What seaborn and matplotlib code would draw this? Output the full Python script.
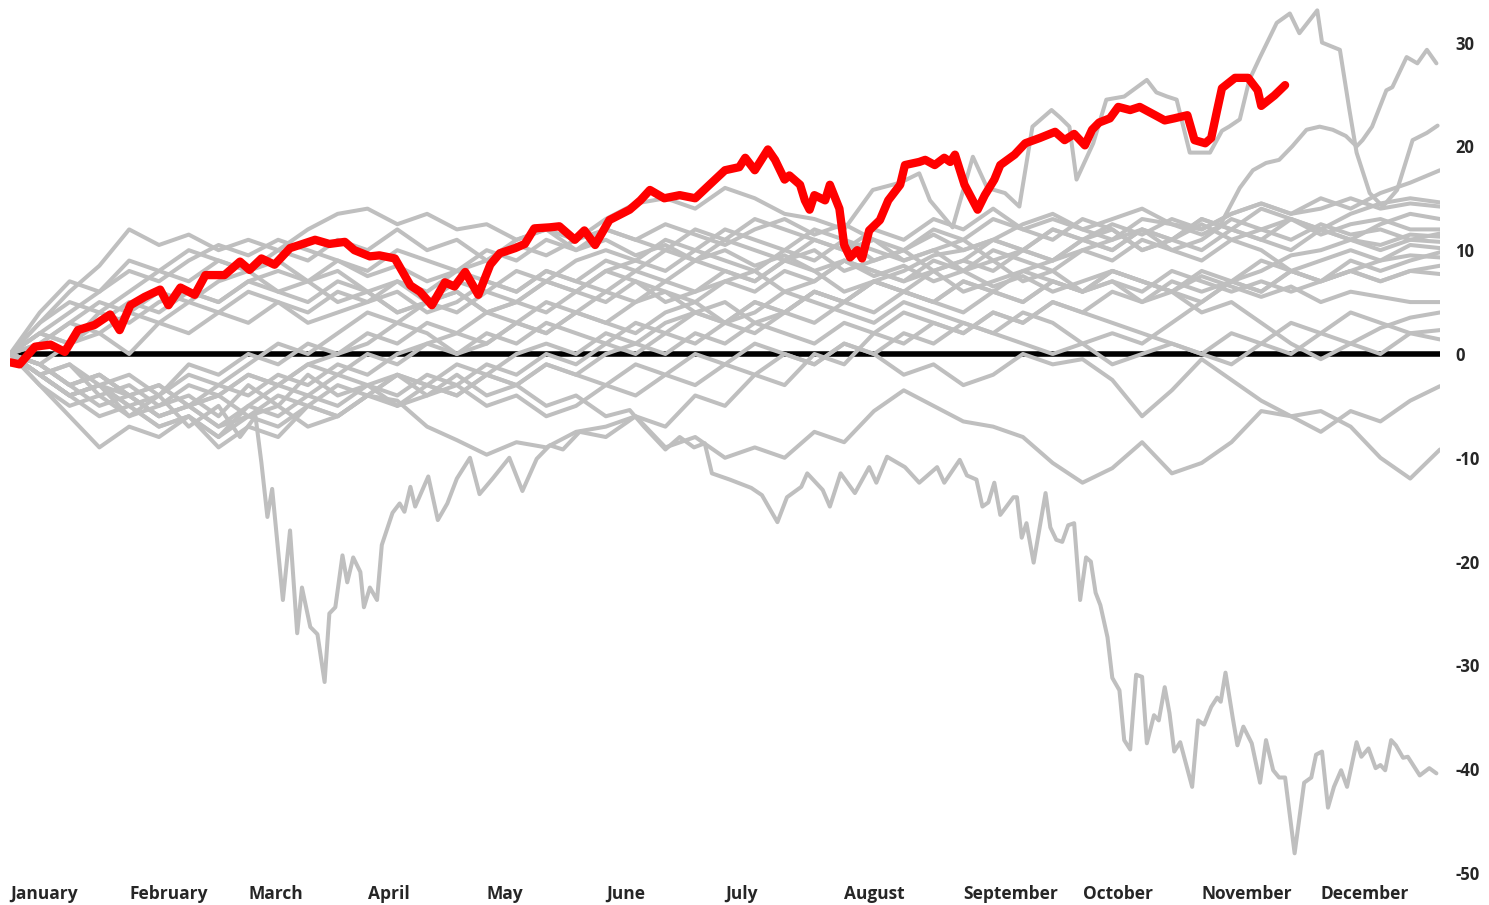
import numpy as np
import pandas as pd
import seaborn as sns
import matplotlib.pyplot as plt

# month labels along the bottom, one per month start
months = ['January', 'February', 'March', 'April', 'May', 'June', 'July',
          'August', 'September', 'October', 'November', 'December']
month_pos = [0, 1, 2, 3, 4, 5, 6, 7, 8, 9, 10, 11]
y_ticks = [-50, -40, -30, -20, -10, 0, 10, 20, 30]

# quarter-month sample positions (x in months since Jan 1)
quarter_x = np.arange(49) * 0.25

# current year (red)
red_x = [0.00, 0.08, 0.21, 0.34, 0.46, 0.57, 0.71, 0.84, 0.92, 1.01, 1.13, 1.26, 1.33, 1.43,
         1.55, 1.64, 1.80, 1.93, 2.01, 2.11, 2.22, 2.35, 2.43, 2.56, 2.68, 2.81, 2.89, 3.02,
         3.10, 3.23, 3.36, 3.44, 3.54, 3.65, 3.73, 3.82, 3.93, 4.03, 4.11, 4.24, 4.32, 4.40,
         4.53, 4.61, 4.74, 4.82, 4.91, 5.03, 5.20, 5.29, 5.37, 5.49, 5.62, 5.75, 5.87, 6.00,
         6.12, 6.17, 6.25, 6.36, 6.42, 6.50, 6.54, 6.63, 6.67, 6.71, 6.75, 6.84, 6.88, 6.96,
         7.00, 7.05, 7.11, 7.15, 7.21, 7.30, 7.37, 7.47, 7.51, 7.63, 7.68, 7.76, 7.84, 7.89,
         7.93, 8.01, 8.12, 8.18, 8.26, 8.31, 8.43, 8.52, 8.64, 8.77, 8.85, 8.93, 9.02, 9.08,
         9.14, 9.23, 9.30, 9.40, 9.48, 9.61, 9.69, 9.77, 9.88, 9.94, 10.03, 10.08, 10.13,
         10.17, 10.28, 10.39, 10.47, 10.50, 10.61, 10.70]
red_y = [-0.8, -1.0, 0.7, 0.9, 0.2, 2.3, 2.8, 3.8, 2.3, 4.7, 5.5, 6.2, 4.7, 6.4,
         5.7, 7.6, 7.6, 8.9, 8.1, 9.2, 8.6, 10.2, 10.5, 11.0, 10.6, 10.8, 10.0, 9.4,
         9.5, 9.2, 6.6, 6.0, 4.7, 6.9, 6.5, 7.9, 5.7, 8.6, 9.7, 10.2, 10.6, 12.1,
         12.2, 12.3, 11.0, 11.9, 10.5, 12.9, 13.9, 14.8, 15.8, 15.0, 15.3, 15.0, 16.3, 17.7,
         18.0, 18.9, 17.7, 19.7, 18.7, 16.8, 17.2, 16.3, 14.8, 13.9, 15.3, 14.8, 16.3, 14.0,
         10.5, 9.3, 10.0, 9.2, 11.9, 12.9, 14.8, 16.3, 18.2, 18.5, 18.7, 18.2, 18.9, 18.5,
         19.2, 16.3, 13.9, 15.3, 16.8, 18.2, 19.2, 20.3, 20.8, 21.4, 20.6, 21.2, 20.1, 21.6,
         22.3, 22.7, 23.8, 23.5, 23.8, 23.0, 22.5, 22.7, 23.0, 20.6, 20.3, 20.8, 23.5,
         25.6, 26.6, 26.6, 25.4, 23.9, 24.9, 25.9]

# past years (grey) sampled every quarter month, four values per month
g01 = [0, 3, 6, 8.5, 12, 10.5, 11.5, 10, 11, 10, 12, 13.5, 14, 12.5, 13.5, 12,
       12.5, 11, 12, 10, 11, 9.5, 10.5, 9, 10, 8.5, 9.5, 8, 9, 7.5, 8.5, 7,
       8, 6.5, 7.5, 6, 7, 8, 7, 6, 7.5, 6.5, 5.5, 6.5, 5, 6, 5.5, 5, 5.0]
g02 = [0, 2, 4, 6, 8, 7, 9, 10.5, 9.5, 11, 10, 9, 7.5, 8.5, 7, 8,
       9, 10.5, 9.5, 11, 12, 11, 12.5, 11.5, 10.5, 12, 13, 11.5, 12.5, 11, 10, 11.5,
       10, 11, 12.5, 13.5, 12, 13, 14, 12.5, 12, 13.5, 14.5, 13.5, 15, 14, 15.5, 16.5, 17.7]
g03 = [0, -2, -1, -3, -2, -4, -1, -2, 0, -1, 1, 0, 2, 1, 3, 2,
       4, 3, 5, 4, 6, 5, 7, 6, 8, 7, 9, 8, 6, 7, 8, 9.5,
       10, 11, 10, 12, 11, 12.5, 11.5, 13, 12, 13.5, 14.5, 13.5, 14, 15, 14, 14.5, 14.2]
g04 = [0, 1, 3, 2, 4, 3, 5, 4, 6, 5, 3, 4, 5, 6, 4, 5,
       7, 6, 8, 7, 6, 8, 7, 9, 8, 7, 9, 10, 8, 9, 10, 8,
       9, 11, 10, 9, 11, 12, 10, 11, 12.5, 11, 12, 13, 11.5, 12.5, 13, 12, 12.0]
g05 = [0, -3, -5, -4, -6, -5, -3, -4, -2, -3, -1, -2, 0, -1, 1, 2,
       1, 3, 2, 4, 3, 5, 6, 5, 7, 6, 8, 7, 9, 8, 7, 8,
       6, 7, 8, 9, 10, 11, 12, 10, 11, 13, 12, 11, 12.5, 11.5, 12, 11, 11.6]
g06 = [0, -1, -3, -2, -4, -3, -5, -4, -2, -3, -1, 0, 1, 3, 2, 0,
       1, 3, 2, 4, 3, 2, 4, 5, 3, 4, 6, 5, 4, 3, 5, 4,
       3, 2, 4, 3, 1, 2, 1, 3, 5, 7, 8, 9.5, 10, 11, 10.5, 11.5, 11.3]
g07 = [0, 2, 1, 3, 5, 4, 6, 5, 7, 6, 5, 7, 6, 4, 5, 6,
       4, 5, 7, 6, 8, 7, 5, 6, 7, 8, 6, 7, 9, 8, 7, 9,
       8, 10, 9, 8, 10, 9, 11, 10, 9, 11, 10, 8, 9, 10, 9, 10.5, 10.2]
g08 = [0, -2, -4, -6, -5, -7, -6, -8, -5, -6, -4, -5, -3, -4, -2, -3,
       -1, -2, 0, -1, 1, 0, 2, 1, 3, 2, 4, 3, 5, 4, 6, 5,
       7, 6, 5, 7, 6, 8, 7, 6, 8, 7, 9, 8, 7, 8, 9, 9.5, 9.3]
g09 = [0, 4, 7, 6, 9, 8, 10, 9, 8, 9, 7, 8, 6, 7, 5, 6,
       4, 5, 7, 6, 8, 9, 8, 10, 9, 8, 10, 9, 11, 10, 9, 10,
       8, 9, 7, 8, 6, 7, 6, 8, 7, 6, 7, 6, 7, 8, 7, 8, 8.5]
g10 = [0, -1, -3, -2, -4, -3, -5, -4, -6, -5, -7, -6, -4, -5, -3, -4,
       -2, -3, -1, -2, 0, 1, 0, 2, 1, 3, 2, 1, 3, 2, 4, 3,
       2, 4, 3, 5, 4, 3, 2, 1, 0, 2, 1, 3, 2, 4, 3, 2, 2.3]
g11 = [0, -2, -4, -3, -4, -6, -5, -7, -5, -3, -4, -2, -3, -2, -4, -3,
       -5, -4, -6, -5, -3, -4, -2, -3, -1, -2, 0, -1, 1, 0, 2, 1,
       3, 2, 1, 0, 1, -1, 0, 1, 0, -1, 1, 0, 2, 1, 0, 2, 1.4]
g12 = [0, -1, -3, -5, -4, -6, -5, -7, -6, -4, -5, -3, -4, -2, -3, -4,
       -2, -3, -1, -2, -3, -1, -2, 0, -1, 1, 0, -1, 1, 0, -2, -1,
       -3, -2, 0, -1, -0.5, -2.5, -6, -3.5, -0.5, -2.5, -4.5, -6, -7.5, -5.5, -6.5, -4.5, -3.1]
g13 = [0, -3, -6, -9, -7, -8, -6, -9, -7, -8, -5, -6, -4, -4.5, -7, -8.3,
       -9.7, -8.5, -9, -7.5, -7, -6, -9, -8, -10, -9, -10, -7.5, -8.5, -5.5, -3.5, -5,
       -6.5, -7, -8, -10.5, -12.4, -11, -8.5, -11.5, -10.5, -8.5, -5.5, -6, -5.5, -7, -10, -12, -9.2]
g14 = [0, 1, 3, 5, 4, 6, 5, 7, 8, 6, 7, 5, 6, 4, 5, 7,
       6, 8, 7, 9, 10, 9, 11, 10, 12, 11, 10, 12, 11, 9, 10, 12,
       11, 13, 12, 11, 13, 12, 10, 11, 13, 12, 14, 13, 12, 13.5, 14.5, 15, 14.6]
g15 = [0, -2, -4, -3, -5, -7, -6, -8, -6, -7, -5, -6, -4, -2, -3, -1,
       -2, 0, 1, 0, 2, 1, 3, 4, 3, 5, 4, 6, 5, 7, 6, 8,
       9, 8, 10, 9, 11, 10, 12, 11, 10, 12, 11, 13, 12, 11, 12.5, 13.5, 13.0]
g16 = [0, -2, -4, -3, -5, -4, -2, -3, -1, 1, 0, 2, 4, 3, 5, 4,
       6, 5, 4, 6, 5, 7, 6, 4, 5, 3, 4, 6, 5, 7, 6, 5,
       4, 6, 5, 7, 6, 8, 7, 6, 5, 7, 6, 8, 7, 9, 8, 9, 9.8]
g17 = [0, -1, -3, -2, -4, -6, -5, -3, -4, -2, -3, -1, -2, 0, 1, 0,
       2, 1, 3, 2, 1, 3, 2, 4, 3, 5, 4, 6, 5, 7, 6, 5,
       7, 6, 8, 7, 6, 7, 5, 6, 4, 5, 3, 1, -0.5, 1, 2.5, 3.5, 4.0]
g18 = [0, 2, 1, 4, 3, 5, 6, 5, 7, 8, 7, 9, 8, 10, 9, 8,
       10, 9, 11, 10, 12, 11, 10, 12, 11, 13, 12, 11, 10, 11, 9, 10,
       11, 9, 10, 12, 11, 10, 12, 11, 13, 12, 11, 10, 12, 11, 10, 11, 10.8]

# the March crash year
crash_mar_x = [0, 0.25, 0.5, 0.75, 1.0, 1.25, 1.5, 1.75, 1.93, 2.06, 2.11, 2.16, 2.20, 2.29,
               2.35, 2.41, 2.45, 2.52, 2.58, 2.64, 2.68, 2.73, 2.79, 2.83, 2.88, 2.94, 2.97,
               3.02, 3.08, 3.12, 3.21, 3.27, 3.31, 3.36, 3.40, 3.51, 3.59, 3.67, 3.75, 3.86,
               3.94, 4.05, 4.19, 4.30, 4.42, 4.53, 4.64, 4.78, 5.0, 5.25, 5.5, 5.75, 6.0,
               6.25, 6.5, 6.75, 7.0, 7.25, 7.5, 7.75, 8.0, 8.25, 8.5, 8.75, 9.0, 9.25, 9.5,
               9.75, 10.0, 10.25, 10.5, 10.75, 11.0, 11.25, 11.5, 11.75, 12.0]
crash_mar_y = [0, -2, -4, -3, -6, -4, -7, -5, -8, -6, -10.5, -15.7, -13, -23.7,
               -17, -26.9, -22.5, -26.3, -27, -31.6, -25, -24.4, -19.4, -22, -19.6, -21, -24.4,
               -22.5, -23.7, -18.4, -15.3, -14.4, -15.2, -12.8, -14.7, -11.8, -16, -14.4, -12, -10,
               -13.5, -12, -10, -13.2, -10.1, -8.8, -9.2, -7.5, -8, -6, -7, -4, -5,
               -2, -3, 0, -1, 2, 1, 3, 2, 4, 3, 5, 4, 6, 5,
               7, 6, 7, 6, 8, 7, 8, 7, 8, 7.7]

# the October crash year
crash_oct_x = [0, 0.25, 0.5, 0.75, 1.0, 1.25, 1.5, 1.75, 2.0, 2.25, 2.5, 2.75, 3.0, 3.25,
               3.5, 3.75, 4.0, 4.25, 4.5, 4.75, 5.0,
               5.20, 5.32, 5.50, 5.62, 5.74, 5.83, 5.89, 6.04, 6.22, 6.31, 6.44, 6.52, 6.64,
               6.69, 6.82, 6.88, 6.97, 7.09, 7.21, 7.27, 7.36, 7.51, 7.63, 7.78, 7.84, 7.97,
               8.03, 8.11, 8.16, 8.21, 8.26, 8.31, 8.42, 8.45, 8.49, 8.53, 8.59, 8.69, 8.73,
               8.78, 8.83, 8.88, 8.93, 8.98, 9.03, 9.07, 9.11, 9.15, 9.21, 9.25, 9.31, 9.35,
               9.40, 9.45, 9.50, 9.54, 9.60, 9.64, 9.69, 9.73, 9.77, 9.82, 9.92, 9.97, 10.02,
               10.08, 10.13, 10.16, 10.20, 10.26, 10.30, 10.35, 10.42, 10.49, 10.54, 10.60,
               10.65, 10.70, 10.78, 10.86, 10.92, 10.96, 11.01, 11.06, 11.11, 11.17, 11.22,
               11.30, 11.34, 11.40, 11.46, 11.50, 11.54, 11.59, 11.63, 11.69, 11.73, 11.83,
               11.91, 11.97]
crash_oct_y = [0, -2, -1, -4, -3, -5, -4, -6, -3, -5, -2, -4, -3, -5,
               -4, -2, -4, -3, -5, -4, -6,
               -5.4, -7.0, -9.2, -8.0, -9.0, -8.6, -11.5, -12.1, -12.9, -13.6, -16.2, -13.8, -12.8,
               -11.5, -13.1, -14.7, -11.5, -13.4, -10.9, -12.4, -9.9, -10.9, -12.4, -10.9, -12.4, -10.2,
               -11.7, -12.1, -14.7, -14.3, -12.4, -15.5, -13.8, -13.8, -17.7, -16.3, -20.1, -13.4, -16.7,
               -17.9, -18.1, -16.5, -16.3, -23.7, -19.6, -20.0, -23.0, -24.2, -27.3, -31.2, -32.4, -37.2,
               -38.1, -30.9, -31.1, -37.5, -34.8, -35.3, -32.1, -34.6, -38.3, -37.4, -41.7, -35.3, -35.7,
               -34.0, -33.1, -33.5, -30.7, -35.0, -37.7, -35.9, -37.5, -41.3, -37.2, -40.1,
               -40.8, -40.8, -48.1, -41.3, -40.8, -38.6, -38.3, -43.7, -41.7, -40.1, -41.7,
               -37.4, -38.8, -38.0, -39.9, -39.6, -40.1, -37.2, -37.7, -38.9, -38.8, -40.6,
               -39.9, -40.4]

# the year that peaks above 30 in late November
peak_x = list(quarter_x[:29]) + [
    7.24, 7.47, 7.63, 7.72, 7.91, 8.08, 8.20, 8.35, 8.47, 8.58, 8.74, 8.81, 8.89, 8.95,
    9.09, 9.20, 9.35, 9.54, 9.62, 9.71, 9.79, 9.90, 10.07, 10.17, 10.23, 10.32, 10.40,
    10.49, 10.63, 10.74, 10.82, 10.97, 11.01, 11.16, 11.24, 11.30, 11.41, 11.52, 11.64,
    11.77, 11.89, 11.98]
peak_y = [0, 3, 5, 4, 6, 8, 7, 9, 8, 10, 9, 11, 10, 12, 10, 11, 9, 11, 12, 11, 13, 14.5,
          15, 14, 16, 15, 13.5, 13, 12,
          15.8, 16.5, 17.4, 14.8, 12.2, 19.0, 16.0, 15.5, 14.2, 21.9, 23.5, 22.8, 21.9, 16.8,
          20.3, 24.5, 24.8, 26.4, 25.2, 24.8, 24.5, 19.4, 19.4, 21.5, 21.9, 22.6, 26.4,
          28.6, 31.9, 32.8, 30.9, 33.1, 30.0, 29.3, 23.5, 19.4, 15.5, 14.2, 15.8,
          20.6, 21.3, 22.0]

# the year that finishes near 28
late_x = list(quarter_x[:37]) + [
    9.25, 9.50, 9.75, 10.00, 10.15, 10.32, 10.43, 10.54, 10.65, 10.76, 10.88, 10.99,
    11.10, 11.21, 11.30, 11.35, 11.43, 11.55, 11.60, 11.72, 11.81, 11.89, 11.97]
late_y = [0, -1, 1, 2, 0, 3, 2, 4, 3, 5, 4, 6, 5, 7, 6, 8, 7, 6, 8, 7, 9, 8, 10, 9,
          11, 10, 9, 11, 10, 12, 11, 13, 12, 14, 12, 13, 12,
          11, 13, 12.5, 11.5, 12.3, 16, 17.7, 18.4, 18.7, 20, 21.6, 21.9,
          21.6, 21.0, 20.0, 20.6, 21.9, 25.4, 25.7, 28.6, 28.0, 29.3, 28.0]

quarter_lines = [g01, g02, g03, g04, g05, g06, g07, g08, g09, g10, g11, g12,
                 g13, g14, g15, g16, g17, g18]

frames = []
for i, vals in enumerate(quarter_lines):
    frames.append(pd.DataFrame({'month': quarter_x, 'value': vals, 'year': f'g{i}'}))
for name, xs, ys in [('mar', crash_mar_x, crash_mar_y), ('oct', crash_oct_x, crash_oct_y),
                     ('peak', peak_x, peak_y), ('late', late_x, late_y)]:
    frames.append(pd.DataFrame({'month': xs, 'value': ys, 'year': name}))
past = pd.concat(frames, ignore_index=True)

sns.set_style('white')
plt.rcParams['font.family'] = ['Open Sans', 'DejaVu Sans']
plt.rcParams['axes.unicode_minus'] = False

fig = plt.figure(figsize=(14.89, 9.05), dpi=100)
ax = fig.add_axes([10 / 1489, 24 / 905, 1430 / 1489, 881 / 905])

ax.axhline(0, color='black', lw=4, zorder=1)
sns.lineplot(data=past, x='month', y='value', units='year', estimator=None,
             color='#bfbfbf', lw=2.9, sort=False, legend=False, ax=ax, zorder=2)
sns.lineplot(x=red_x, y=red_y, color='#ff0000', lw=6, sort=False, ax=ax, zorder=3,
             solid_capstyle='round')

ax.set_xlim(0, 12)
ax.set_ylim(-50.77, 34.1)
ax.set_xlabel('')
ax.set_ylabel('')
ax.set_xticks(month_pos)
ax.set_xticklabels(months, ha='left', fontsize=12.5, fontweight='bold')
ax.set_yticks(y_ticks)
ax.set_yticklabels([str(t) for t in y_ticks], fontsize=12, fontweight='bold')
ax.yaxis.tick_right()
ax.tick_params(axis='x', length=0, pad=3)
ax.tick_params(axis='y', length=0, pad=11)
for s in ax.spines.values():
    s.set_visible(False)
ax.grid(False)

fig.savefig('out.png', dpi=100, facecolor='white')
